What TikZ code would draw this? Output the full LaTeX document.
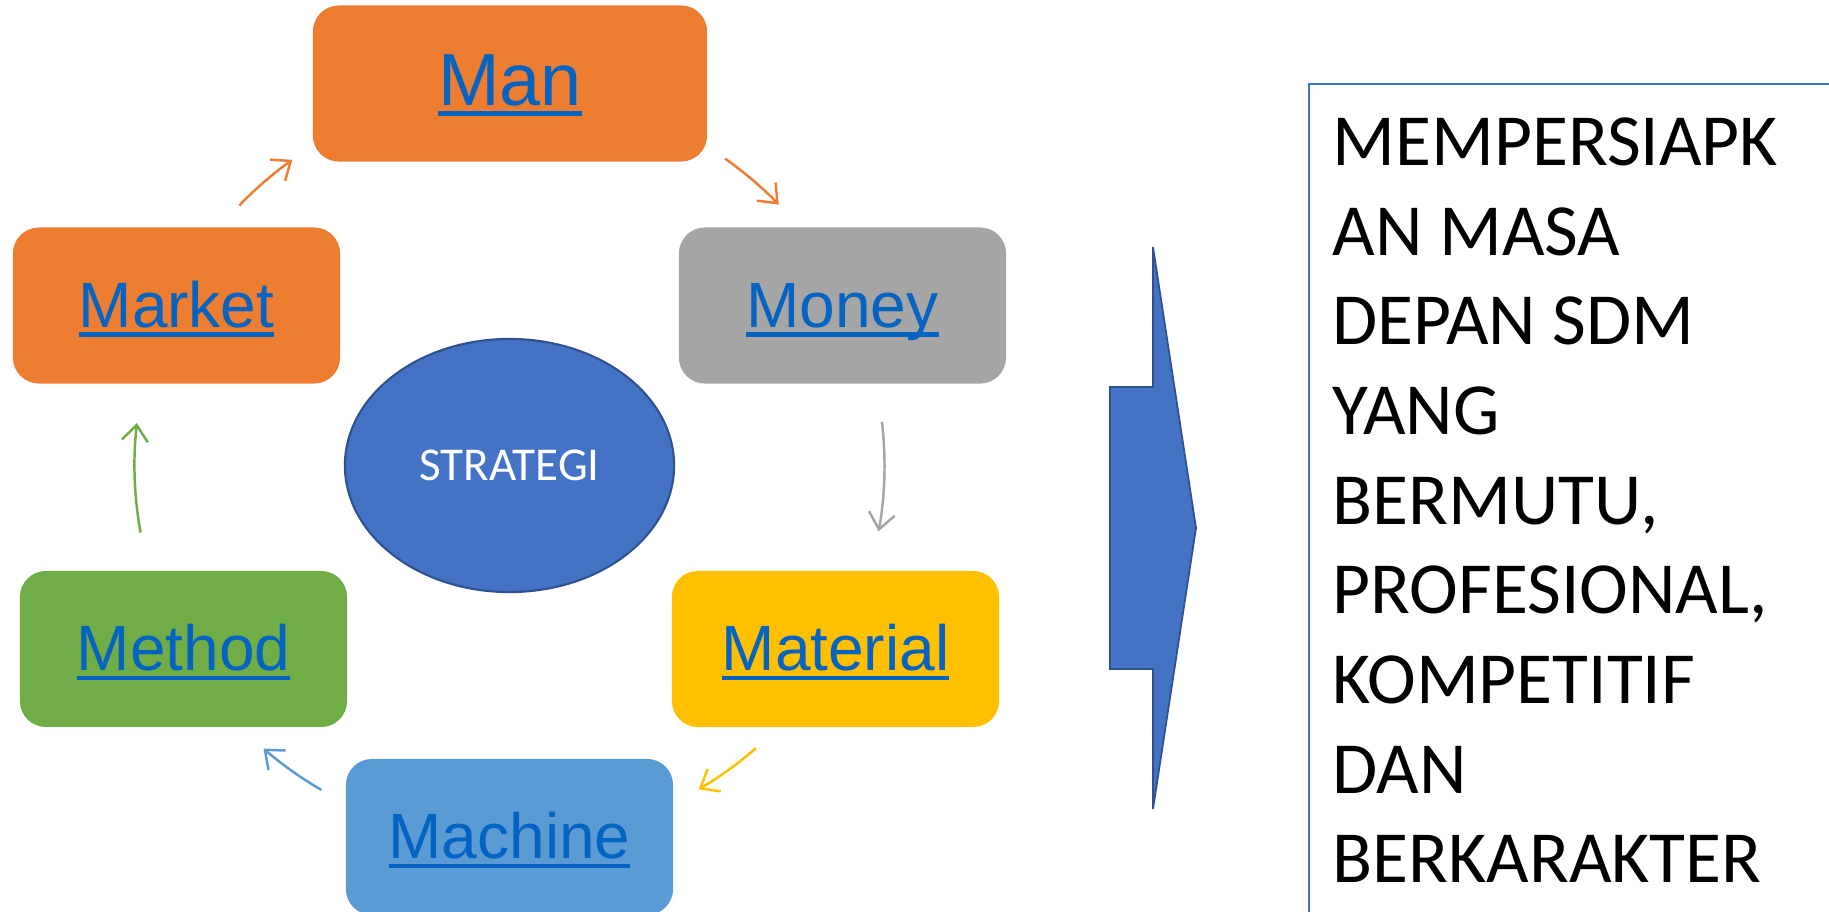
\documentclass[tikz,border=0pt]{standalone}
\usepackage{fontspec}
\usepackage{tikz}
\usetikzlibrary{positioning, shapes.geometric, arrows.meta}
\newfontfamily\arialfont{Liberation Sans}
\newfontfamily\calibrifont{Carlito}
\definecolor{Office-1}{RGB}{68,114,196}
\definecolor{Office-1d}{RGB}{47,82,143}
\definecolor{Office-2}{RGB}{237,125,49}
\definecolor{Office-3}{RGB}{165,165,165}
\definecolor{Office-4}{RGB}{255,192,0}
\definecolor{Office-5}{RGB}{91,155,213}
\definecolor{Office-6}{RGB}{112,173,71}
\definecolor{Hyperlink}{RGB}{5,99,193}
% underlined link-style label
\newcommand{\linklabel}[1]{\setbox0=\hbox{#1}\rlap{\rule[-0.15em]{\wd0}{0.07em}}\box0}

\begin{document}
\begin{tikzpicture}[x=0.01cm, y=-0.01cm,
    block/.style={rounded corners=0.26cm, minimum width=3.27cm, minimum height=1.56cm, inner sep=0pt,
                  text height=0.5cm, text depth=0.07cm, text=Hyperlink, font=\arialfont\fontsize{18.2}{20}\selectfont},
    cyc/.style={line width=0.7pt, -{Straight Barb[length=0.16cm, width=0.26cm]}}]
      \useasboundingbox (0, 0) rectangle (1829, 912);
      \clip (0, 0) rectangle (1829, 912);
      \fill[white] (0, 0) rectangle (1829, 912);

      \node[block, fill=Office-2, minimum width=3.94cm, font=\arialfont\fontsize{21}{24}\selectfont] (man) at ( 510.0,  83.5) {\linklabel{Man}};
      \node[block, fill=Office-3] (mny) at ( 842.5, 305.5) {\linklabel{Money}};
      \node[block, fill=Office-4] (mtl) at ( 835.5, 649.0) {\linklabel{Material}};
      \node[block, fill=Office-5] (mch) at ( 509.5, 837.0) {\linklabel{Machine}};
      \node[block, fill=Office-6] (mth) at ( 183.5, 649.0) {\linklabel{Method}};
      \node[block, fill=Office-2] (mkt) at ( 176.5, 305.5) {\linklabel{Market}};

      \node[ellipse, fill=Office-1, draw=Office-1d, line width=0.6pt, minimum width=3.29cm, minimum height=2.53cm, inner sep=0pt,
            text=white, font=\calibrifont\fontsize{13.4}{16}\selectfont] (str) at (509.5, 465.5) {STRATEGI};

      % cycle arcs round the centre
      \draw[cyc, Office-2] (str.center) ++(-136.1:375) arc[start angle=-136.1, end angle=-125.4, radius=375];
      \draw[cyc, Office-2] (str.center) ++( -54.9:375) arc[start angle= -54.9, end angle= -44.1, radius=375];
      \draw[cyc, Office-3] (str.center) ++(  -6.7:375) arc[start angle=  -6.7, end angle=  10.1, radius=375];
      \draw[cyc, Office-4] (str.center) ++(  48.9:375) arc[start angle=  48.9, end angle=  59.7, radius=375];
      \draw[cyc, Office-5] (str.center) ++( 120.1:375) arc[start angle= 120.1, end angle= 131.0, radius=375];
      \draw[cyc, Office-6] (str.center) ++(-190.3:375) arc[start angle=-190.3, end angle=-173.5, radius=375];

      \draw[fill=Office-1, draw=Office-1d, line width=0.5pt]
        (1110, 387) -- (1153, 387) -- (1153, 247) -- (1196, 528) -- (1153, 809) -- (1153, 669) -- (1110, 669) -- cycle;

      \draw[Office-1, line width=0.6pt] (1309, 950) -- (1309, 84) -- (1900, 84);
      \node[anchor=north west, inner sep=0pt, align=left, font=\calibrifont\fontsize{20.9}{25.5}\selectfont] (txt) at (1332, 117)
        {MEMPERSIAPK\\AN MASA\\DEPAN SDM\\YANG\\BERMUTU,\\PROFESIONAL,\\KOMPETITIF\\DAN\\BERKARAKTER};
\end{tikzpicture}
\end{document}
